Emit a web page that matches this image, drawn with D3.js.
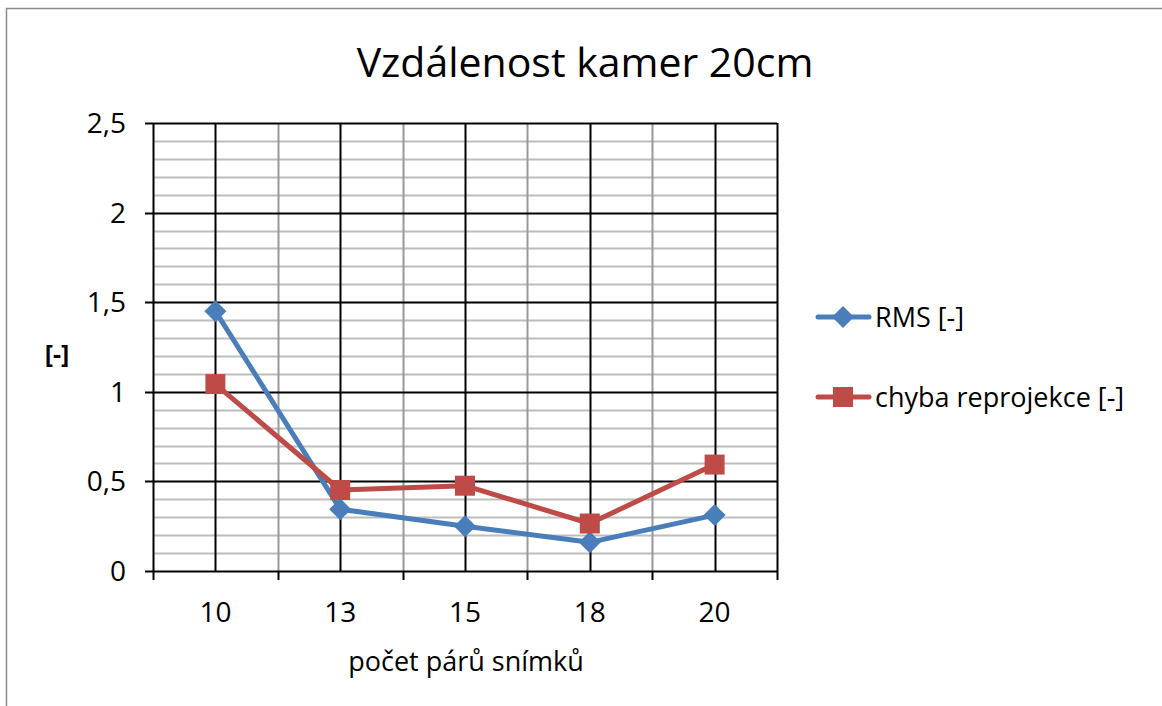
<!DOCTYPE html>
<html>
<head>
<meta charset="utf-8">
<script src="https://cdn.jsdelivr.net/npm/d3@7/dist/d3.min.js"></script>
<style>
  html, body { margin: 0; padding: 0; background: #fff; }
  svg { display: block; font-family: "Open Sans", "Lato", sans-serif; }
</style>
</head>
<body>
<div id="chart"></div>
<script>
var categories = ["10", "13", "15", "18", "20"];
var rmsValues = [1.45, 0.345, 0.25, 0.16, 0.312];
var reprojValues = [1.043, 0.452, 0.476, 0.265, 0.594];
var yTicks = [0, 0.5, 1, 1.5, 2, 2.5];
var yTickLabels = ["0", "0,5", "1", "1,5", "2", "2,5"];
var seriesNames = ["RMS [-]", "chyba reprojekce [-]"];

var width = 1162, height = 706;
var margin = { left: 153, right: 777, top: 123, bottom: 571 };

var svg = d3.select("#chart").append("svg")
  .attr("width", width)
  .attr("height", height);

svg.append("rect").attr("width", width).attr("height", height).attr("fill", "#fff");

// outer chart border
svg.append("rect")
  .attr("x", 6.5).attr("y", 8.5)
  .attr("width", 1170).attr("height", 720)
  .attr("fill", "none")
  .attr("stroke", "#8c8c8c")
  .attr("stroke-width", 1.5);

var x = d3.scaleBand().domain(categories).range([margin.left, margin.right]).paddingInner(0).paddingOuter(0);
var y = d3.scaleLinear().domain([0, 2.5]).range([margin.bottom, margin.top]);

var grid = svg.append("g");

// minor horizontal gridlines (every 0.1, skipping the majors)
var minor = d3.range(1, 25).map(function (i) { return i / 10; }).filter(function (v) {
  return Math.abs(v * 2 - Math.round(v * 2)) > 1e-6;
});
grid.selectAll(".hminor").data(minor).enter().append("line")
  .attr("x1", margin.left).attr("x2", margin.right)
  .attr("y1", function (d) { return Math.round(y(d)) + 0.5; })
  .attr("y2", function (d) { return Math.round(y(d)) + 0.5; })
  .attr("stroke", "#bdbdbd").attr("stroke-width", 2);

// minor vertical gridlines (category boundaries)
var bounds = categories.slice(1).map(function (c) { return x(c); });
grid.selectAll(".vminor").data(bounds).enter().append("line")
  .attr("x1", function (d) { return Math.round(d) + 0.5; })
  .attr("x2", function (d) { return Math.round(d) + 0.5; })
  .attr("y1", margin.top).attr("y2", margin.bottom)
  .attr("stroke", "#999").attr("stroke-width", 2);

// major horizontal gridlines
grid.selectAll(".hmajor").data(yTicks).enter().append("line")
  .attr("x1", margin.left - 8).attr("x2", margin.right)
  .attr("y1", function (d) { return Math.round(y(d)) + 0.5; })
  .attr("y2", function (d) { return Math.round(y(d)) + 0.5; })
  .attr("stroke", "#000").attr("stroke-width", 2);

// major vertical gridlines (category centers)
grid.selectAll(".vmajor").data(categories).enter().append("line")
  .attr("x1", function (d) { return Math.round(x(d) + x.bandwidth() / 2) + 0.5; })
  .attr("x2", function (d) { return Math.round(x(d) + x.bandwidth() / 2) + 0.5; })
  .attr("y1", margin.top).attr("y2", margin.bottom)
  .attr("stroke", "#000").attr("stroke-width", 2);

// plot borders left / right
[margin.left, margin.right].forEach(function (px) {
  grid.append("line")
    .attr("x1", px + 0.5).attr("x2", px + 0.5)
    .attr("y1", margin.top).attr("y2", margin.bottom)
    .attr("stroke", "#000").attr("stroke-width", 2);
});

// x tick marks at boundaries
var allBounds = [margin.left].concat(bounds).concat([margin.right]);
grid.selectAll(".xtick").data(allBounds).enter().append("line")
  .attr("x1", function (d) { return Math.round(d) + 0.5; })
  .attr("x2", function (d) { return Math.round(d) + 0.5; })
  .attr("y1", margin.bottom).attr("y2", margin.bottom + 9)
  .attr("stroke", "#000").attr("stroke-width", 2);

// y tick labels
svg.selectAll(".ylab").data(yTicks).enter().append("text")
  .attr("x", 126)
  .attr("y", function (d) { return y(d) + 10; })
  .attr("text-anchor", "end")
  .attr("font-size", 28)
  .text(function (d, i) { return yTickLabels[i]; });

// x tick labels
svg.selectAll(".xlab").data(categories).enter().append("text")
  .attr("x", function (d) { return x(d) + x.bandwidth() / 2; })
  .attr("y", 622)
  .attr("text-anchor", "middle")
  .attr("font-size", 28)
  .text(function (d) { return d; });

// titles
svg.append("text")
  .attr("x", 585).attr("y", 77)
  .attr("text-anchor", "middle")
  .attr("font-size", 41)
  .text("Vzdálenost kamer 20cm");

svg.append("text")
  .attr("x", 466).attr("y", 671)
  .attr("text-anchor", "middle")
  .attr("font-size", 27)
  .text("počet párů snímků");

svg.append("text")
  .attr("x", 57).attr("y", 363)
  .attr("text-anchor", "middle")
  .attr("font-size", 25)
  .attr("font-weight", "bold")
  .text("[-]");

// series
var series = [
  { name: seriesNames[0], values: rmsValues, color: "#4a7ebb", marker: "diamond" },
  { name: seriesNames[1], values: reprojValues, color: "#be4b48", marker: "square" }
];

var line = d3.line()
  .x(function (d, i) { return x(categories[i]) + x.bandwidth() / 2; })
  .y(function (d) { return y(d); });

function drawMarker(g, type, color) {
  if (type === "diamond") {
    g.append("path").attr("d", "M0,-11L11,0L0,11L-11,0Z").attr("fill", color);
  } else {
    g.append("rect").attr("x", -10).attr("y", -10).attr("width", 20).attr("height", 20).attr("fill", color);
  }
}

series.forEach(function (s) {
  svg.append("path")
    .attr("d", line(s.values))
    .attr("fill", "none")
    .attr("stroke", s.color)
    .attr("stroke-width", 5)
    .attr("stroke-linejoin", "round");
  s.values.forEach(function (v, i) {
    var g = svg.append("g")
      .attr("transform", "translate(" + (x(categories[i]) + x.bandwidth() / 2) + "," + y(v) + ")");
    drawMarker(g, s.marker, s.color);
  });
});

// legend
var legend = svg.append("g");
series.forEach(function (s, i) {
  var ly = 317 + i * 80;
  legend.append("line")
    .attr("x1", 818).attr("x2", 869)
    .attr("y1", ly).attr("y2", ly)
    .attr("stroke", s.color).attr("stroke-width", 5)
    .attr("stroke-linecap", "round");
  var g = legend.append("g").attr("transform", "translate(843," + ly + ")");
  drawMarker(g, s.marker, s.color);
  legend.append("text")
    .attr("x", 875).attr("y", ly + 10)
    .attr("font-size", 27)
    .text(s.name);
});
</script>
</body>
</html>
